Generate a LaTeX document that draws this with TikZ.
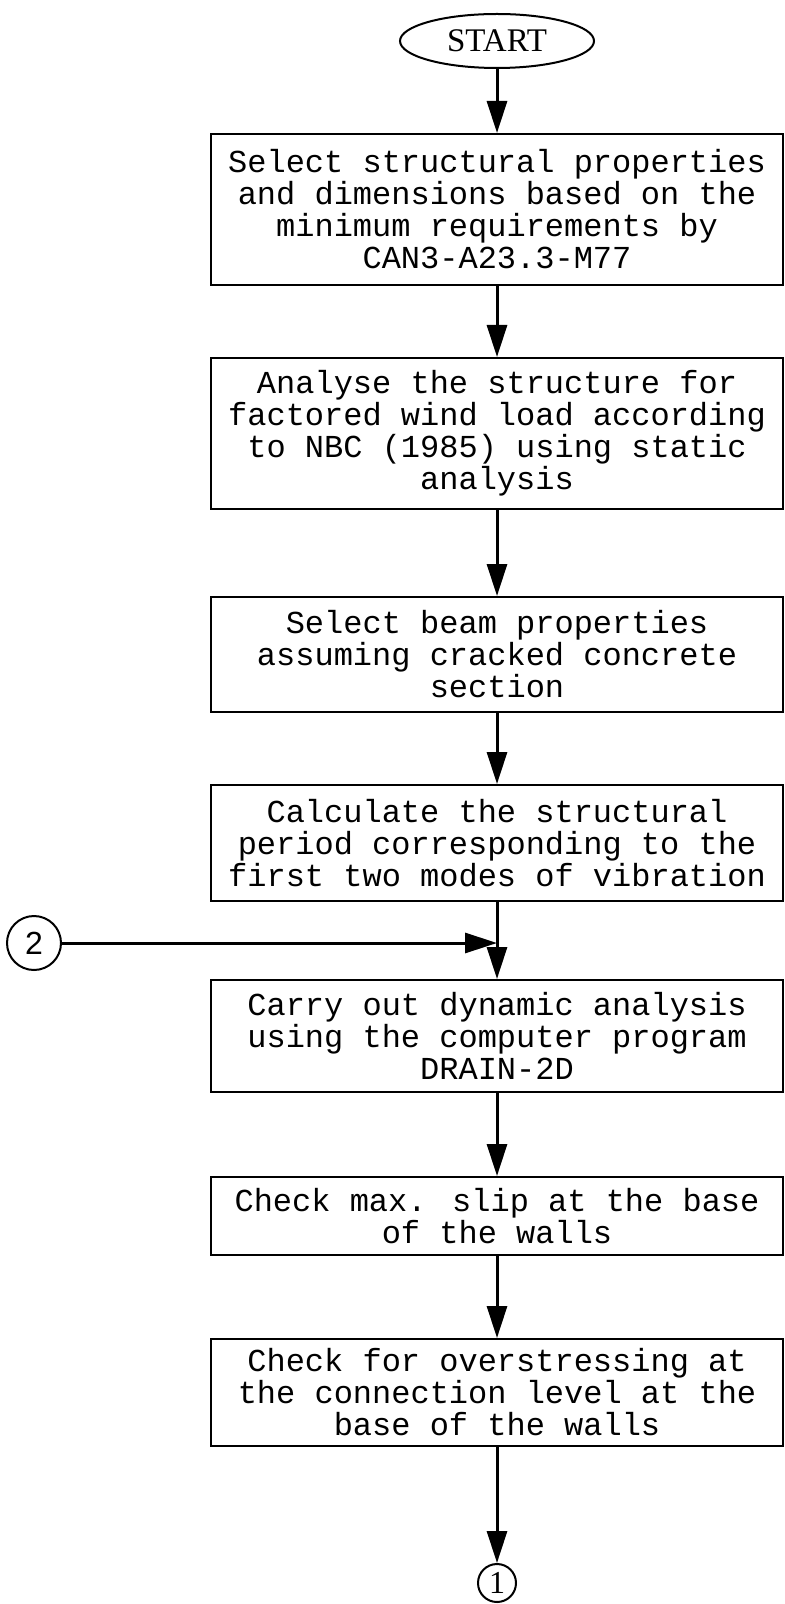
\documentclass[tikz,border=0pt]{standalone}
\usepackage{fontspec}
\newfontfamily\boxfont{Liberation Mono}
\newfontfamily\startfont{Liberation Serif}
\newfontfamily\connfont{Liberation Sans}
\usetikzlibrary{arrows.meta,positioning,shapes.geometric}

\begin{document}
\begin{tikzpicture}[
  x=0.5pt, y=-0.5pt,
  stepbox/.style={draw=black, line width=1pt, align=center, minimum width=286pt, inner sep=2pt, font=\boxfont\fontsize{16}{16}\selectfont},
  startnode/.style={draw=black, line width=1pt, ellipse, minimum width=97pt, minimum height=27pt, inner sep=0pt, font=\startfont\fontsize{16.5}{16.5}\selectfont},
  conn/.style={draw=black, line width=1pt, circle, inner sep=0pt},
  line/.style={-{Triangle[length=16pt,width=10pt]}, line width=1.5pt, draw=black}
]
\useasboundingbox (0,0) rectangle (784,1604);

\node[startnode] (start) at (497,41) {START};
\node[stepbox, below=32pt of start, minimum height=75.5pt] (props) {Select structural properties\\and dimensions based on the\\minimum requirements by\\CAN3-A23.3-M77};
\node[stepbox, below=35.5pt of props, minimum height=75.5pt] (wind) {Analyse the structure for\\factored wind load according\\to NBC (1985) using static\\analysis};
\node[stepbox, below=43pt of wind, minimum height=57.5pt] (beam) {Select beam properties\\assuming cracked concrete\\section};
\node[stepbox, below=35.5pt of beam, minimum height=58pt] (period) {Calculate the structural\\period corresponding to the\\first two modes of vibration};
\node[stepbox, below=38.5pt of period, minimum height=56pt] (drain) {Carry out dynamic analysis\\using the computer program\\DRAIN-2D};
\node[stepbox, below=41.5pt of drain, minimum height=39pt] (slip) {Check max. slip at the base\\of the walls};
\node[stepbox, below=41pt of slip, minimum height=53.5pt] (stress) {Check for overstressing at\\the connection level at the\\base of the walls};

\node[conn, minimum size=19pt, below=58pt of stress, font=\startfont\fontsize{16}{16}\selectfont] (c1) {1};
\node[conn, minimum size=27pt, font=\connfont\fontsize{16}{16}\selectfont] (c2) at (34,943) {2};

\draw[line] (start) -- (props);
\draw[line] (props) -- (wind);
\draw[line] (wind) -- (beam);
\draw[line] (beam) -- (period);
\draw[line] (period) -- (drain);
\draw[line] (drain) -- (slip);
\draw[line] (slip) -- (stress);
\draw[line] (stress) -- (c1);
\draw[line] (c2) -- (c2 -| period.south);

\end{tikzpicture}
\end{document}
